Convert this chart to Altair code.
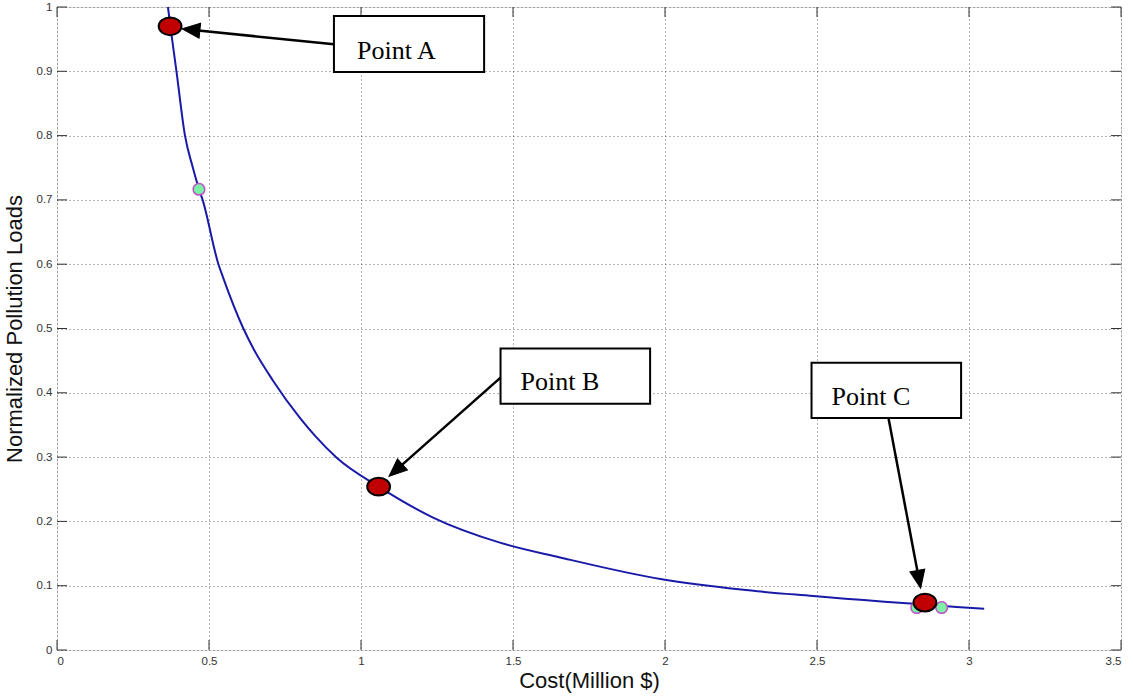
import math
import altair as alt
import pandas as pd

# ---- data ----
cost = [0.365, 0.373, 0.393, 0.421, 0.447, 0.467, 0.479, 0.531, 0.545, 0.613, 0.648,
        0.709, 0.799, 0.849, 0.920, 1.058, 1.237, 1.457, 1.655, 1.990,
        2.250, 2.487, 3.050]
load = [1.000, 0.970, 0.900, 0.800, 0.750, 0.717, 0.700, 0.600, 0.581, 0.500, 0.467,
        0.420, 0.361, 0.333, 0.299, 0.254, 0.206, 0.167, 0.144, 0.110,
        0.094, 0.084, 0.064]

red_x = [0.372, 1.058, 2.855]
red_y = [0.970, 0.254, 0.0737]

green_x = [0.467, 2.828, 2.910]
green_y = [0.7165, 0.066, 0.066]

labels = ["Point A", "Point B", "Point C"]
box_x1 = [0.911, 1.459, 2.482]
box_x2 = [1.405, 1.951, 2.974]
box_y1 = [0.986, 0.469, 0.4466]
box_y2 = [0.899, 0.383, 0.361]
text_x = [0.987, 1.525, 2.548]
text_y = [0.932, 0.417, 0.394]
arrow_x0 = [0.911, 1.459, 2.735]
arrow_y0 = [0.942, 0.4237, 0.361]
arrow_x1 = [0.411, 1.092, 2.841]
arrow_y1 = [0.966, 0.270, 0.0961]

x_ticks = [0, 0.5, 1, 1.5, 2, 2.5, 3, 3.5]
y_ticks = [0, 0.1, 0.2, 0.3, 0.4, 0.5, 0.6, 0.7, 0.8, 0.9, 1.0]

W, H = 1064, 643
XMAX, YMAX = 3.5, 1.0
sx, sy = W / XMAX, H / YMAX

# ---- tables ----
curve = pd.DataFrame({"cost": cost, "load": load})
red = pd.DataFrame({"cost": red_x, "load": red_y})
green = pd.DataFrame({"cost": green_x, "load": green_y})
boxes = pd.DataFrame({"x1": box_x1, "x2": box_x2, "y1": box_y1, "y2": box_y2,
                      "tx": text_x, "ty": text_y, "label": labels})

rows = []
head_len_px = 14
for x0, y0, x1, y1 in zip(arrow_x0, arrow_y0, arrow_x1, arrow_y1):
    dxp = (x1 - x0) * sx
    dyp = -(y1 - y0) * sy  # screen y down
    L = math.hypot(dxp, dyp)
    ang = math.degrees(math.atan2(dxp, -dyp)) % 360
    ex = x1 - (dxp / L) * head_len_px / sx
    ey = y1 + (dyp / L) * head_len_px / sy
    rows.append({"x0": x0, "y0": y0, "ex": ex, "ey": ey, "tx": x1, "ty": y1, "angle": ang})
arrows = pd.DataFrame(rows)

xs = alt.Scale(domain=[0, XMAX], nice=False, zero=False)
ys = alt.Scale(domain=[0, YMAX], nice=False, zero=False)

grid_axis_x = alt.Axis(values=x_ticks, format="~g", ticks=False, domain=False,
                       grid=True, gridDash=[1, 3], gridColor="#666", gridWidth=1,
                       labelFont="Liberation Sans", labelFontSize=11.5, labelColor="#333",
                       labelPadding=5, title="Cost(Million $)", titleFont="Liberation Sans",
                       titleFontSize=22, titleFontWeight="normal", titleColor="#111",
                       titlePadding=4)
grid_axis_y = alt.Axis(values=y_ticks, format="~g", ticks=False, domain=False,
                       grid=True, gridDash=[1, 3], gridColor="#666", gridWidth=1,
                       labelFont="Liberation Sans", labelFontSize=11.5, labelColor="#333",
                       labelPadding=5, title="Normalized Pollution Loads",
                       titleFont="Liberation Sans", titleFontSize=22,
                       titleFontWeight="normal", titleColor="#111", titlePadding=10)

base_line = alt.Chart(curve).mark_line(color="#1a1aa8", strokeWidth=2,
                                       interpolate="monotone").encode(
    x=alt.X("cost:Q", scale=xs, axis=grid_axis_x),
    y=alt.Y("load:Q", scale=ys, axis=grid_axis_y),
    order="cost:Q",
)

tick_x_df = pd.DataFrame({"v": x_ticks})
tick_y_df = pd.DataFrame({"v": y_ticks})
tick_style = dict(color="#333", strokeWidth=1)
ticks_bottom = alt.Chart(tick_x_df).mark_rule(**tick_style).encode(
    x=alt.X("v:Q", scale=xs), y=alt.value(H), y2=alt.value(H - 10))
ticks_top = alt.Chart(tick_x_df).mark_rule(**tick_style).encode(
    x=alt.X("v:Q", scale=xs), y=alt.value(0), y2=alt.value(10))
ticks_left = alt.Chart(tick_y_df).mark_rule(**tick_style).encode(
    y=alt.Y("v:Q", scale=ys), x=alt.value(0), x2=alt.value(10))
ticks_right = alt.Chart(tick_y_df).mark_rule(**tick_style).encode(
    y=alt.Y("v:Q", scale=ys), x=alt.value(W), x2=alt.value(W - 10))

green_pts = alt.Chart(green).mark_point(
    shape="circle", filled=True, fill="#7cf0a4", stroke="#c04fc8", strokeWidth=1.5,
    size=135, opacity=1).encode(
    x=alt.X("cost:Q", scale=xs), y=alt.Y("load:Q", scale=ys))

ellipse = "M-1,0A1,0.78,0,1,1,1,0A1,0.78,0,1,1,-1,0Z"
red_pts = alt.Chart(red).mark_point(
    shape=ellipse, filled=True, fill="#c00000", stroke="black", strokeWidth=2,
    size=520, opacity=1).encode(
    x=alt.X("cost:Q", scale=xs), y=alt.Y("load:Q", scale=ys))

arrow_lines = alt.Chart(arrows).mark_rule(color="black", strokeWidth=2.5).encode(
    x=alt.X("x0:Q", scale=xs), y=alt.Y("y0:Q", scale=ys),
    x2="ex:Q", y2="ey:Q")
head = "M0,0L-0.42,1L0.42,1Z"
arrow_heads = alt.Chart(arrows).mark_point(
    shape=head, filled=True, fill="black", stroke="black", strokeWidth=1,
    size=1296, opacity=1).encode(
    x=alt.X("tx:Q", scale=xs), y=alt.Y("ty:Q", scale=ys), angle=alt.Angle("angle:Q", scale=None))

box_rects = alt.Chart(boxes).mark_rect(fill="white", stroke="black", strokeWidth=2).encode(
    x=alt.X("x1:Q", scale=xs), x2="x2:Q", y=alt.Y("y1:Q", scale=ys), y2="y2:Q")
box_text = alt.Chart(boxes).mark_text(
    font="Liberation Serif", fontSize=26, align="left", baseline="middle", color="black").encode(
    x=alt.X("tx:Q", scale=xs), y=alt.Y("ty:Q", scale=ys), text="label:N")

chart = alt.layer(
    base_line, ticks_bottom, ticks_top, ticks_left, ticks_right,
    green_pts, red_pts, arrow_lines, arrow_heads, box_rects, box_text,
).properties(
    width=W, height=H,
    autosize=alt.AutoSizeParams(type="none"),
    padding={"left": 57, "top": 7, "right": 12, "bottom": 46},
).configure_view(stroke="#333", strokeWidth=1.2).configure(background="white")

chart.save("out.html", embed_options={"renderer": "svg", "actions": False})
